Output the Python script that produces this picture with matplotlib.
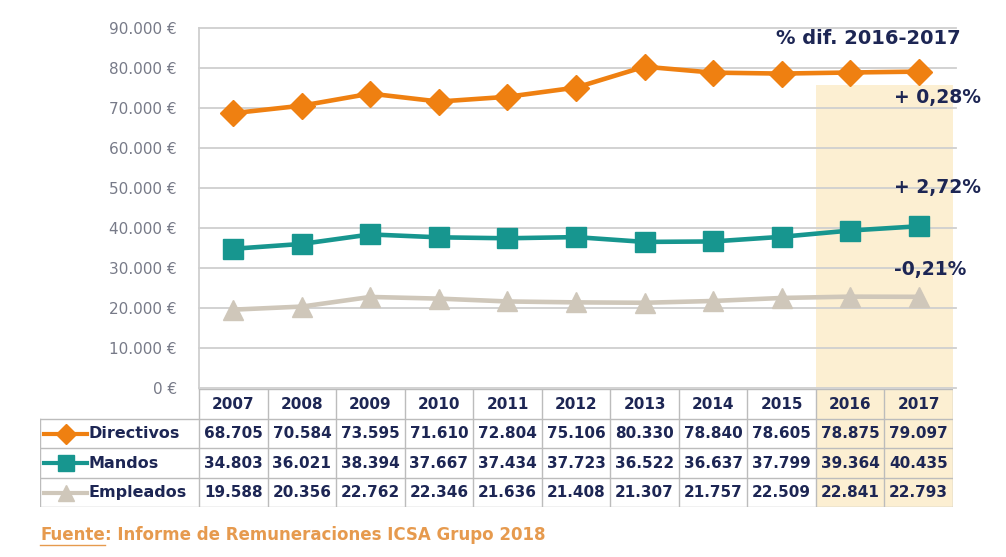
import numpy as np
import matplotlib.pyplot as plt
from matplotlib.patches import Rectangle

years = ['2007', '2008', '2009', '2010', '2011', '2012', '2013', '2014', '2015', '2016', '2017']
directivos = [68705, 70584, 73595, 71610, 72804, 75106, 80330, 78840, 78605, 78875, 79097]
mandos = [34803, 36021, 38394, 37667, 37434, 37723, 36522, 36637, 37799, 39364, 40435]
empleados = [19588, 20356, 22762, 22346, 21636, 21408, 21307, 21757, 22509, 22841, 22793]
series_names = ['Directivos', 'Mandos', 'Empleados']
difs = ['+ 0,28%', '+ 2,72%', '-0,21%']

orange = '#ef8011'
teal = '#17968f'
beige = '#cfc7ba'
navy = '#1d2654'
hl = '#fcefd2'
gridc = '#cfcfcf'

W, H = 1006, 557
fig = plt.figure(figsize=(W / 100, H / 100), dpi=100)
plt.rcParams['font.family'] = ['DejaVu Sans']

def box(x0, y0, x1, y1):
    return [x0 / W, 1 - y1 / H, (x1 - x0) / W, (y1 - y0) / H]

x = np.arange(len(years))

# main chart
ax = fig.add_axes(box(199, 28, 953, 388))
ax.set_xlim(-0.5, 10.5)
ax.set_ylim(0, 90000)
ax.add_patch(Rectangle((8.5, 0), 2, 75800, color=hl, zorder=0, lw=0))
for v in range(0, 90001, 10000):
    ax.plot([-0.5, 10.55], [v, v], color=gridc, lw=1.3, zorder=1, clip_on=False)
ax.plot(x, empleados, color=beige, lw=3.3, marker='^', ms=14, zorder=3)
ax.plot(x, mandos, color=teal, lw=3.3, marker='s', ms=14, zorder=4)
ax.plot(x, directivos, color=orange, lw=3.3, marker='D', ms=13, zorder=5)
for s in ['top', 'right', 'bottom']:
    ax.spines[s].set_visible(False)
ax.spines['left'].set_color(gridc)
ax.spines['left'].set_linewidth(1.3)
ax.set_xticks([])
ticks = list(range(0, 90001, 10000))
ax.set_yticks(ticks)
ax.set_yticklabels(['0 €' if t == 0 else f'{t // 1000}.000 €' for t in ticks],
                   color='#777a88', fontsize=11)
ax.tick_params(axis='y', length=0, pad=16)

# table
col_w = 68.5
tx0 = -0.5 - (199 - 40) / col_w
tab = fig.add_axes(box(40, 389, 953, 507))
tab.set_xlim(tx0, 10.5)
tab.set_ylim(4, 0)
tab.axis('off')
tab.add_patch(Rectangle((8.5, 0), 2, 4, color=hl, zorder=0, lw=0))
lc = '#bcbcbc'
tab.plot([-0.5, 10.5], [0, 0], color=lc, lw=1)
for r in range(1, 5):
    tab.plot([tx0, 10.5], [r, r], color=lc, lw=1)
tab.plot([tx0, tx0], [1, 4], color=lc, lw=1)
for c in range(12):
    tab.plot([c - 0.5, c - 0.5], [0, 4], color=lc, lw=1)
for i, y in enumerate(years):
    tab.text(i, 0.52, y, ha='center', va='center', color=navy, fontsize=11, fontweight='bold')
rows = [directivos, mandos, empleados]
styles = [(orange, 'D', 10), (teal, 's', 11), (beige, '^', 11)]
for r, (vals, name, (c, m, ms)) in enumerate(zip(rows, series_names, styles)):
    yy = r + 1.52
    for i, v in enumerate(vals):
        tab.text(i, yy, f'{v // 1000}.{v % 1000:03d}', ha='center', va='center',
                 color=navy, fontsize=11, fontweight='bold')
    lx0 = tx0 + 4 / col_w
    lx1 = tx0 + 47 / col_w
    tab.plot([lx0, lx1], [yy, yy], color=c, lw=3)
    tab.plot([(lx0 + lx1) / 2], [yy], color=c, marker=m, ms=ms)
    tab.text(tx0 + 48 / col_w, yy, name, ha='left', va='center', color=navy,
             fontsize=11.5, fontweight='bold')

# annotations
fig.text(868 / W, 1 - 38 / H, '% dif. 2016-2017', ha='center', va='center',
         color=navy, fontsize=14, fontweight='bold')
for txt, yp, xp in zip(difs, [97, 188, 270], [937, 937, 930]):
    fig.text(xp / W, 1 - yp / H, txt, ha='center', va='center', color=navy,
             fontsize=13.5, fontweight='bold')

# source
src_c = '#e69a4e'
t1 = fig.text(40 / W, 1 - 535 / H, 'Fuente', ha='left', va='center', color=src_c,
              fontsize=12, fontweight='bold')
fig.canvas.draw()
bb = t1.get_window_extent()
fig.text(bb.x1 / W, 1 - 535 / H, ': Informe de Remuneraciones ICSA Grupo 2018',
         ha='left', va='center', color=src_c, fontsize=12, fontweight='bold')
fig.add_artist(plt.Line2D([bb.x0 / W, bb.x1 / W], [(bb.y0 - 1) / H, (bb.y0 - 1) / H],
                          color=src_c, lw=1))

fig.savefig('out.png', dpi=100)
